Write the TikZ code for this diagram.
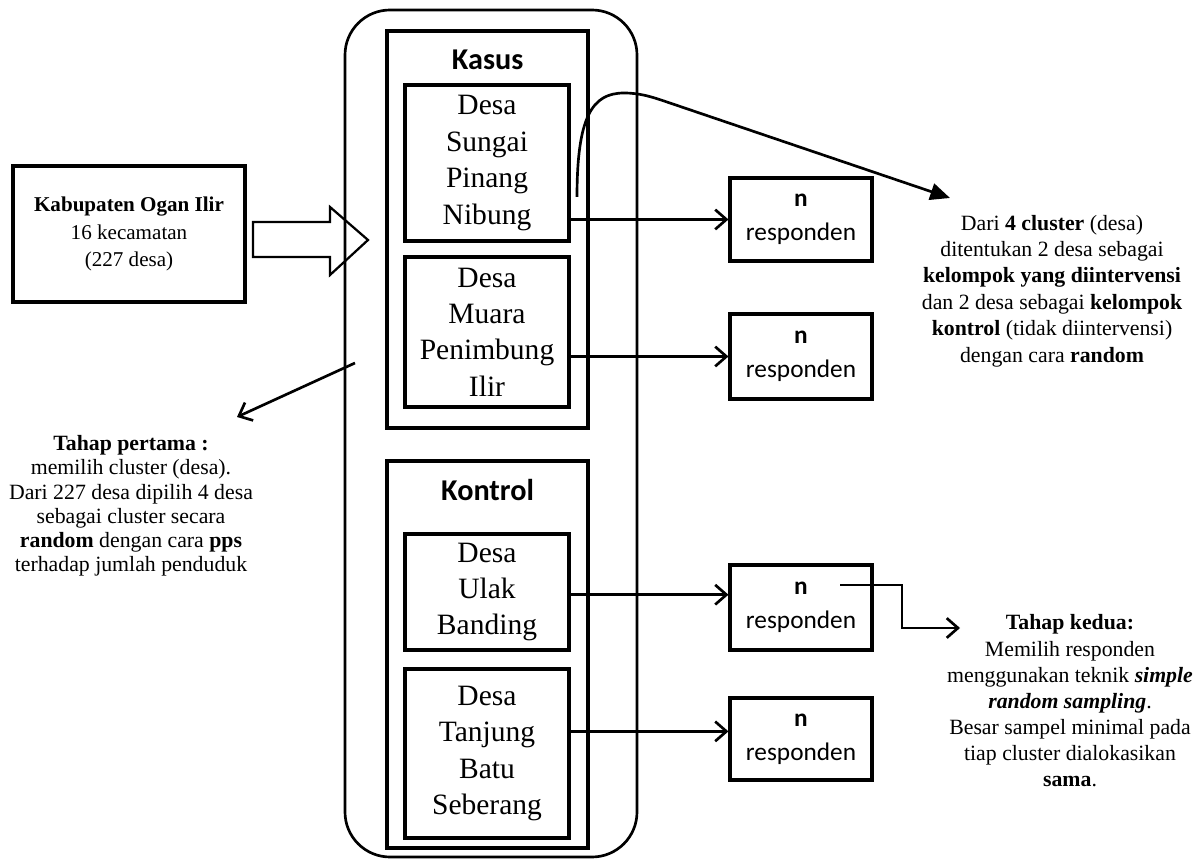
\documentclass[tikz,border=0pt]{standalone}
\usepackage{fontspec}
\setmainfont{Liberation Serif}
\newfontfamily\calibri{Carlito}
\usetikzlibrary{arrows.meta}

\begin{document}
\begin{tikzpicture}[every node/.style={align=center, inner sep=0pt},
  kotak/.style={draw, line width=2.2pt, rectangle},
  desa/.style={kotak, minimum width=4.1cm, font=\fontsize{21}{25.9}\selectfont},
  resp/.style={kotak, minimum width=3.55cm, font=\calibri\fontsize{18}{24}\selectfont},
  judul/.style={font=\calibri\bfseries\fontsize{21.5}{26}\selectfont},
  panah/.style={line width=1.9pt, -{Straight Barb[length=8pt,width=14pt]}}]
  \useasboundingbox (0,0) rectangle (30,21.525);
  % Kabupaten
  \node[kotak, minimum width=5.8cm, minimum height=3.4cm, font=\fontsize{15}{19.5}\selectfont] (kab) at (3.225,15.675)
    {\textbf{Kabupaten Ogan Ilir}\\16 kecamatan\\(227 desa)};
  \draw[line width=1.6pt, line join=miter] (6.325,15.975) -- (8.25,15.975) -- (8.25,16.35) -- (9.2,15.525)
    -- (8.25,14.65) -- (8.25,15.1) -- (6.325,15.1) -- cycle;
  % Wadah
  \node[draw, line width=1.9pt, rounded corners=1.125cm, minimum width=7.3cm, minimum height=21.175cm] (luar) at (12.275,10.6875) {};
  % Kasus
  \node[kotak, minimum width=5.025cm, minimum height=9.925cm] (kasus) at (12.1875,15.7875) {};
  \node[judul] (lblkasus) at (12.19,20.025) {Kasus};
  \node[desa, minimum height=3.9cm] (sungai) at (12.175,17.45) {Desa\\Sungai\\Pinang\\Nibung};
  \node[desa, minimum height=3.75cm] (muara) at (12.175,13.225) {Desa\\Muara\\Penimbung\\Ilir};
  % Kontrol
  \node[kotak, minimum width=5.025cm, minimum height=9.675cm] (kontrol) at (12.1875,5.1625) {};
  \node[judul] (lblkontrol) at (12.19,9.275) {Kontrol};
  \node[desa, minimum height=2.9cm] (ulak) at (12.175,6.725) {Desa\\Ulak\\Banding};
  \node[desa, minimum height=4.225cm] (tanjung) at (12.175,2.6875) {Desa\\Tanjung\\Batu\\Seberang};
  % Responden
  \node[resp, minimum height=2.075cm] (r1) at (20.025,16.0375) {\textbf{n}\\responden};
  \node[resp, minimum height=2.125cm] (r2) at (20.025,12.6125) {\textbf{n}\\responden};
  \node[resp, minimum height=2.125cm] (r3) at (20.025,6.3375) {\textbf{n}\\responden};
  \node[resp, minimum height=2.05cm] (r4) at (20.025,3.05) {\textbf{n}\\responden};
  \draw[panah] (sungai.east |- r1.west) -- (r1.west);
  \draw[panah] (muara.east |- r2.west) -- (r2.west);
  \draw[panah] (ulak.east |- r3.170) -- (r3.170);
  \draw[panah] (tanjung.east |- r4.174) -- (r4.174);
  % Keterangan
  \node[font=\fontsize{15.5}{17.2}\selectfont] (tahap1) at (3.275,8.875)
    {\textbf{Tahap pertama :}\\memilih cluster (desa).\\Dari 227 desa dipilih 4 desa\\sebagai cluster secara\\\textbf{random} dengan cara \textbf{pps}\\terhadap jumlah penduduk};
  \node[font=\fontsize{15.5}{18.8}\selectfont] (ket1) at (26.3,14.25)
    {Dari \textbf{4 cluster} (desa)\\ditentukan 2 desa sebagai\\\textbf{kelompok yang diintervensi}\\dan 2 desa sebagai \textbf{kelompok}\\\textbf{kontrol} (tidak diintervensi)\\dengan cara \textbf{random}};
  \node[font=\fontsize{15.5}{18.6}\selectfont] (tahap2) at (26.75,4.0)
    {\textbf{Tahap kedua:}\\Memilih responden\\menggunakan teknik \textbf{\textit{simple}}\\\textbf{\textit{random sampling}}.\\Besar sampel minimal pada\\tiap cluster dialokasikan\\\textbf{sama}.};
  \coordinate (t1a) at (8.875,12.45);
  \coordinate (t1b) at (5.925,11.1);
  \draw[panah] (t1a) -- (t1b);
  \coordinate (k1a) at (14.425,16.6);
  \coordinate (k1b) at (23.75,16.575);
  \draw[line width=1.9pt, -{Triangle[length=14pt,width=12pt]}] (k1a) .. controls (14.425,18.6) and (14.8,19.2) .. (15.6,19.2)
    .. controls (16.0,19.2) and (16.3,19.1) .. (16.6,19.0) -- (k1b);
  \coordinate (t2a) at (21.0,6.9);
  \coordinate (t2b) at (24.0,5.825);
  \draw[panah] (t2a) -- ++(1.55,0) |- (t2b);
\end{tikzpicture}
\end{document}
